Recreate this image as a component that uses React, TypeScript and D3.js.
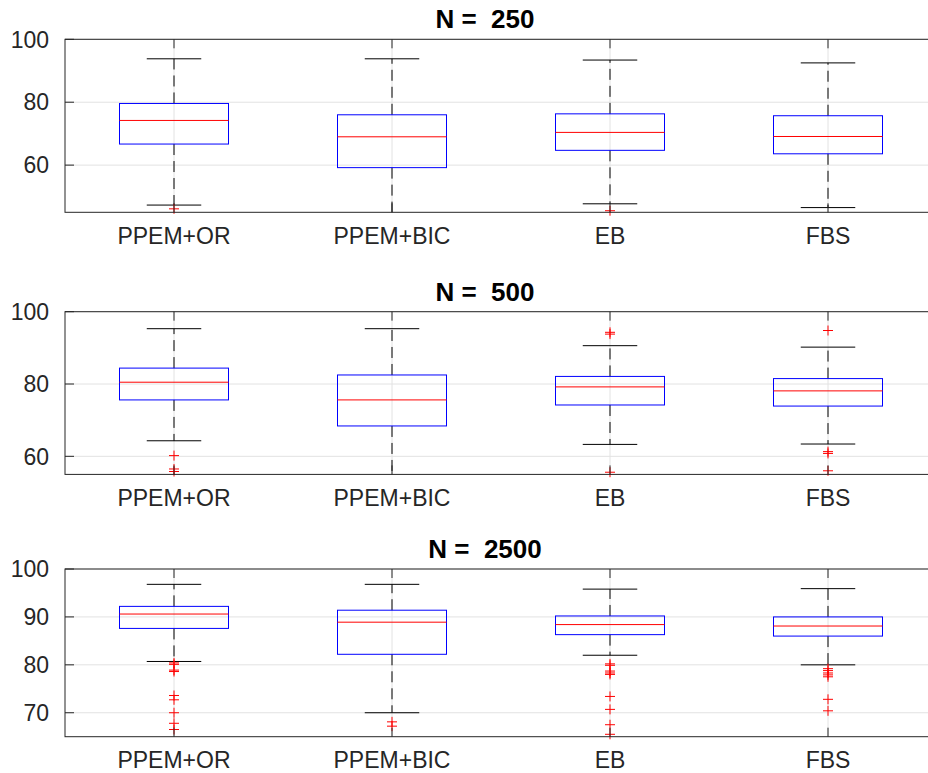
import React from "react";
import * as d3 from "d3";

// Methods compared in every panel
const methods = ["PPEM+OR", "PPEM+BIC", "EB", "FBS"];
// Sample size of each panel
const sampleSizes = [250, 500, 2500];
// Y-axis limits and tick values of each panel
const yDomains: [number, number][] = [
  [45, 100],
  [55, 100],
  [65, 100],
];
const yTickValues = [
  [60, 80, 100],
  [60, 80, 100],
  [70, 80, 90, 100],
];

// Box statistics per method: [lower whisker, Q1, median, Q3, upper whisker]
const statsN250 = [
  [47.3, 66.7, 74.2, 79.6, 93.8],
  [40.0, 59.2, 69.0, 76.0, 93.8],
  [47.7, 64.7, 70.4, 76.3, 93.4],
  [46.5, 63.6, 69.1, 75.7, 92.5],
];
const statsN500 = [
  [64.3, 75.6, 80.5, 84.4, 95.3],
  [50.0, 68.4, 75.6, 82.5, 95.3],
  [63.3, 74.2, 79.2, 82.1, 90.6],
  [63.4, 73.9, 78.1, 81.5, 90.2],
];
const statsN2500 = [
  [80.7, 87.6, 90.6, 92.2, 96.8],
  [70.0, 82.2, 88.9, 91.4, 96.8],
  [82.0, 86.3, 88.4, 90.2, 95.8],
  [80.0, 86.0, 88.1, 90.0, 95.9],
];

// Outlying values per method
const outliersN250 = [[46.1], [], [45.5], []];
const outliersN500 = [
  [60.2, 56.5, 55.8],
  [],
  [94.3, 93.8, 55.6],
  [94.8, 61.3, 60.8, 56.0],
];
const outliersN2500 = [
  [80.4, 80.1, 78.9, 78.6, 73.6, 72.7, 70.0, 67.8, 66.5],
  [68.1, 67.2],
  [80.2, 79.9, 78.7, 78.3, 78.0, 73.4, 70.7, 67.5, 65.5],
  [79.2, 78.8, 78.3, 77.9, 77.5, 72.8, 70.4],
];

const panelStats = [statsN250, statsN500, statsN2500];
const panelOutliers = [outliersN250, outliersN500, outliersN2500];

// Layout
const WIDTH = 928;
const HEIGHT = 773;
const LEFT = 65;
const RIGHT = 937;
const FRAMES = [
  { top: 39.3, bottom: 212.3 },
  { top: 311.7, bottom: 474.4 },
  { top: 569, bottom: 736.7 },
];
const FONT = "'Liberation Sans', Arial, Helvetica, sans-serif";
const AXIS_COLOR = "#262626";
const GRID_COLOR = "#e2e2e2";
const TICK_LEN = 9;

function Panel({ index }: { index: number }) {
  const { top, bottom } = FRAMES[index];
  const x = d3.scaleLinear().domain([0.5, methods.length + 0.5]).range([LEFT, RIGHT]);
  const y = d3.scaleLinear().domain(yDomains[index]).range([bottom, top]);
  const stats = panelStats[index];
  const outliers = panelOutliers[index];
  const boxHalf = (x(1.25) - x(1)) ;
  const capHalf = (x(1.125) - x(1));
  const clipId = `clip-${index}`;
  const [ymin, ymax] = yDomains[index];

  return (
    <g>
      <defs>
        <clipPath id={clipId}>
          <rect x={LEFT} y={top} width={RIGHT - LEFT} height={bottom - top} />
        </clipPath>
      </defs>

      {/* grid */}
      {yTickValues[index].map((t) => (
        <line key={`gy${t}`} x1={LEFT} x2={RIGHT} y1={y(t)} y2={y(t)} stroke={GRID_COLOR} strokeWidth={1} />
      ))}
      {methods.map((m, i) => (
        <line key={`gx${m}`} x1={x(i + 1)} x2={x(i + 1)} y1={top} y2={bottom} stroke={GRID_COLOR} strokeWidth={1} />
      ))}

      {/* boxes */}
      <g clipPath={`url(#${clipId})`}>
        {stats.map(([lo, q1, med, q3, hi], i) => {
          const cx = x(i + 1);
          return (
            <g key={`box${i}`}>
              <line x1={cx} x2={cx} y1={y(q3)} y2={y(hi)} stroke="#000" strokeWidth={1} strokeDasharray="11,6" />
              <line x1={cx} x2={cx} y1={y(q1)} y2={y(lo)} stroke="#000" strokeWidth={1} strokeDasharray="11,6" />
              <line x1={cx - capHalf} x2={cx + capHalf} y1={y(hi)} y2={y(hi)} stroke="#000" strokeWidth={1} />
              <line x1={cx - capHalf} x2={cx + capHalf} y1={y(lo)} y2={y(lo)} stroke="#000" strokeWidth={1} />
              <rect
                x={cx - boxHalf}
                y={y(q3)}
                width={boxHalf * 2}
                height={y(q1) - y(q3)}
                fill="none"
                stroke="#0000ff"
                strokeWidth={1}
              />
              <line x1={cx - boxHalf} x2={cx + boxHalf} y1={y(med)} y2={y(med)} stroke="#ff0000" strokeWidth={1} />
            </g>
          );
        })}
      </g>

      {/* outliers */}
      {outliers.map((vals, i) =>
        vals
          .filter((v) => v >= ymin && v <= ymax)
          .map((v, k) => {
            const cx = x(i + 1);
            const cy = y(v);
            return (
              <path
                key={`o${i}-${k}`}
                d={`M${cx - 5},${cy}H${cx + 5}M${cx},${cy - 5}V${cy + 5}`}
                stroke="#ff0000"
                strokeWidth={1}
                fill="none"
              />
            );
          })
      )}

      {/* axes frame and ticks */}
      <rect x={LEFT} y={top} width={RIGHT - LEFT} height={bottom - top} fill="none" stroke={AXIS_COLOR} strokeWidth={1} />
      {yTickValues[index].map((t) => (
        <g key={`ty${t}`}>
          <line x1={LEFT} x2={LEFT + TICK_LEN} y1={y(t)} y2={y(t)} stroke={AXIS_COLOR} />
          <line x1={RIGHT} x2={RIGHT - TICK_LEN} y1={y(t)} y2={y(t)} stroke={AXIS_COLOR} />
          <text
            x={LEFT - 16}
            y={y(t)}
            dy="0.36em"
            textAnchor="end"
            fontFamily={FONT}
            fontSize={23}
            fill={AXIS_COLOR}
          >
            {t}
          </text>
        </g>
      ))}
      {methods.map((m, i) => (
        <g key={`tx${m}`}>
          <line x1={x(i + 1)} x2={x(i + 1)} y1={top} y2={top + TICK_LEN} stroke={AXIS_COLOR} />
          <line x1={x(i + 1)} x2={x(i + 1)} y1={bottom} y2={bottom - TICK_LEN} stroke={AXIS_COLOR} />
          <text
            x={x(i + 1)}
            y={bottom + 31.5}
            textAnchor="middle"
            fontFamily={FONT}
            fontSize={23}
            fill={AXIS_COLOR}
          >
            {m}
          </text>
        </g>
      ))}

      {/* title */}
      <text
        x={485}
        y={top - 11.2}
        textAnchor="middle"
        fontFamily={FONT}
        fontSize={26}
        fontWeight="bold"
        fill="#000"
        style={{ whiteSpace: "pre" }}
      >
        {`N =  ${sampleSizes[index]}`}
      </text>
    </g>
  );
}

export default function App() {
  return (
    <svg
      width={WIDTH}
      height={HEIGHT}
      viewBox={`0 0 ${WIDTH} ${HEIGHT}`}
      style={{ position: "absolute", left: 0, top: 0, background: "#fff" }}
    >
      <rect width={WIDTH} height={HEIGHT} fill="#fff" />
      {sampleSizes.map((_, i) => (
        <Panel key={i} index={i} />
      ))}
    </svg>
  );
}
